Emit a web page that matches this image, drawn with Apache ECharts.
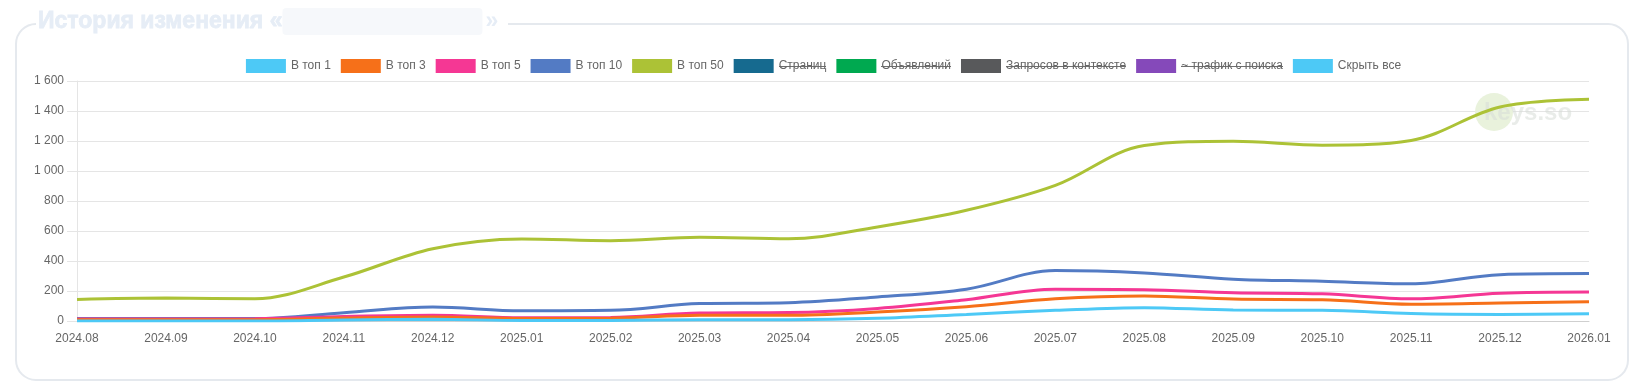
<!DOCTYPE html>
<html>
<head>
<meta charset="utf-8">
<script src="https://cdn.jsdelivr.net/npm/echarts@6/dist/echarts.min.js"></script>
<style>
html,body{margin:0;padding:0;background:#fff;}
#chart{width:1647px;height:389px;}
</style>
</head>
<body>
<div id="chart"></div>
<script>
const categories = ['2024.08','2024.09','2024.10','2024.11','2024.12','2025.01','2025.02','2025.03','2025.04','2025.05','2025.06','2025.07','2025.08','2025.09','2025.10','2025.11','2025.12','2026.01'];
const top1  = [0, 0, 0, 7, 11, 4, 4, 9, 9, 18, 44, 71, 89, 73, 72, 50, 44, 49];
const top3  = [9, 9, 9, 20, 27, 16, 18, 38, 38, 60, 95, 148, 167, 146, 142, 112, 120, 129];
const top5  = [13, 13, 15, 30, 38, 21, 23, 53, 56, 84, 142, 212, 209, 188, 181, 148, 185, 193];
const top10 = [16, 16, 16, 55, 93, 68, 71, 116, 122, 160, 212, 336, 320, 279, 265, 248, 309, 316];
const top50 = [144, 153, 148, 293, 482, 547, 535, 558, 548, 627, 738, 904, 1170, 1198, 1172, 1204, 1427, 1478];
const pages = [];
const ads = [];
const contextQueries = [];
const searchTraffic = [];
const hideAll = [];
const seriesNames = ['В топ 1','В топ 3','В топ 5','В топ 10','В топ 50','Страниц','Объявлений','Запросов в контексте','~ трафик с поиска','Скрыть все'];
const seriesData = [top1, top3, top5, top10, top50, pages, ads, contextQueries, searchTraffic, hideAll];
const colors = ['#4dc9f6','#f67019','#f53794','#537bc4','#acc236','#166a8f','#00a950','#58595b','#8549ba','#4dc9f6'];
const struck = ['Страниц','Объявлений','Запросов в контексте','~ трафик с поиска'];
const yTicks = { min: 0, max: 1600, interval: 200 };

const strike = document.createElement('canvas');
strike.width = 8; strike.height = 14;
(function(){ const c = strike.getContext('2d'); c.fillStyle = '#666'; c.fillRect(0, 7, 8, 1); })();

const FONT = 'Arial, "Liberation Sans", Helvetica, sans-serif';
const chart = echarts.init(document.getElementById('chart'), null, {renderer: 'canvas'});

const series = seriesNames.map((n, i) => ({
  name: n,
  type: 'line',
  data: seriesData[i],
  smooth: 0.35,
  showSymbol: false,
  symbol: 'none',
  z: 20 - i,
  lineStyle: { width: 3, color: colors[i] },
  itemStyle: { color: colors[i] },
  emphasis: { disabled: true }
}));

chart.setOption({
  animation: false,
  backgroundColor: '#fff',
  color: colors,
  title: {
    left: 38, top: 8, padding: 0,
    text: '{a|История изменения «}{b|}{c|»}',
    textStyle: {
      rich: {
        a: { color: '#e6edf6', fontFamily: '"Liberation Sans"', fontSize: 23, fontWeight: 900, height: 27, lineHeight: 27, textBorderColor: '#e6edf6', textBorderWidth: 0.8 },
        b: { width: 200, height: 27, backgroundColor: '#f6f8fb', borderRadius: 4 },
        c: { color: '#e6edf6', fontFamily: '"Liberation Sans"', fontSize: 23, fontWeight: 900, height: 27, lineHeight: 27, padding: [0, 0, 0, 3] }
      }
    }
  },
  grid: { left: 77, right: 58, top: 81, bottom: 68 },
  legend: {
    top: 59,
    left: 'center',
    padding: 0,
    itemWidth: 40,
    itemHeight: 14,
    itemGap: 10,
    icon: 'rect',
    data: seriesNames.map((n, i) => ({ name: n, itemStyle: { color: colors[i], borderColor: colors[i] } })),
    formatter: name => struck.includes(name) ? '{s|' + name + '}' : name,
    textStyle: {
      fontFamily: FONT, fontSize: 12, color: '#666',
      rich: { s: { fontFamily: FONT, fontSize: 12, color: '#666', backgroundColor: { image: strike } } }
    },
    selectedMode: false
  },
  xAxis: {
    type: 'category',
    data: categories,
    boundaryGap: false,
    axisLine: { show: true, lineStyle: { color: '#cfcfcf', width: 1 } },
    axisTick: { show: false },
    splitLine: { show: false },
    axisLabel: { color: '#666', fontFamily: FONT, fontSize: 12, margin: 12, interval: 0 }
  },
  yAxis: {
    type: 'value',
    min: yTicks.min, max: yTicks.max, interval: yTicks.interval,
    axisLine: { show: true, lineStyle: { color: '#e5e5e5' } },
    axisTick: { show: true, length: 10, lineStyle: { color: '#e5e5e5' } },
    splitLine: { show: true, lineStyle: { color: '#e5e5e5' } },
    axisLabel: {
      color: '#666', fontFamily: FONT, fontSize: 12, margin: 13,
      formatter: v => String(v).replace(/\B(?=(\d{3})+(?!\d))/g, ' ')
    }
  },
  graphic: [
    { type: 'rect', z: -10, shape: { x: 16, y: 24, width: 1612, height: 356, r: 20 },
      style: { fill: '#fff', stroke: '#e5e9ee', lineWidth: 2 } },
    { type: 'rect', z: -9, shape: { x: 36, y: 10, width: 472, height: 24 }, style: { fill: '#fff' } },
    { type: 'circle', z: 1, shape: { cx: 1494, cy: 112, r: 19 }, style: { fill: '#e9f2dc' } },
    { type: 'text', z: 1, x: 1484, y: 113,
      style: { text: 'keys.so', fill: 'rgba(215,220,215,0.55)', fontFamily: FONT, fontSize: 24, fontWeight: 'bold', verticalAlign: 'middle' } }
  ],
  series: series
});
</script>
</body>
</html>
